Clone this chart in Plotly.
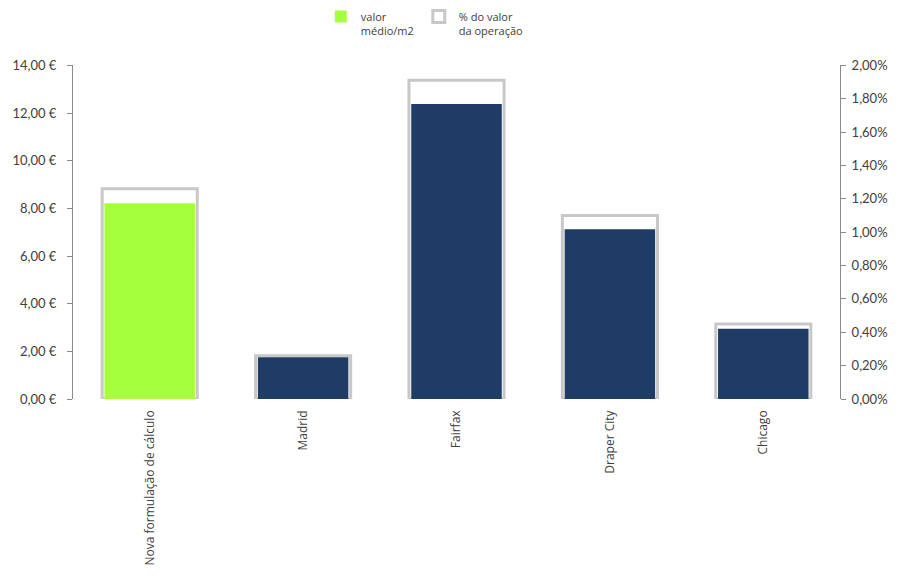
import plotly.graph_objects as go

# Data
categorias = ["Nova formulação de cálculo", "Madrid", "Fairfax", "Draper City", "Chicago"]
valor_m2 = [8.21, 1.75, 12.38, 7.12, 2.95]            # € per m2
pct_operacao = [0.0126, 0.0026, 0.0191, 0.0110, 0.0045]  # share of operation value

eur_ticks = [0, 2, 4, 6, 8, 10, 12, 14]
eur_labels = ["0,00 €", "2,00 €", "4,00 €", "6,00 €", "8,00 €", "10,00 €", "12,00 €", "14,00 €"]
pct_ticks = [0, 0.002, 0.004, 0.006, 0.008, 0.010, 0.012, 0.014, 0.016, 0.018, 0.020]
pct_labels = ["0,00%", "0,20%", "0,40%", "0,60%", "0,80%", "1,00%",
              "1,20%", "1,40%", "1,60%", "1,80%", "2,00%"]

GREEN = "#a6ff3c"
NAVY = "#1f3c66"
bar_colors = [GREEN if i == 0 else NAVY for i in range(len(categorias))]

FONT = "Lato, 'Open Sans', sans-serif"
TXT = "#404040"
AXIS = "#8a8a8a"

fig = go.Figure()

# Outline bars (% of operation value) on the right-hand axis, drawn underneath
fig.add_trace(go.Bar(
    x=categorias, y=pct_operacao, yaxis="y",
    name="% do valor<br>da operação",
    width=0.62,
    marker=dict(color="white", line=dict(color="#c8c8c8", width=3)),
    hoverinfo="x+y",
))

# Filled bars (average value per m2) on the left-hand axis, drawn on top
fig.add_trace(go.Bar(
    x=categorias, y=valor_m2, yaxis="y2",
    name="valor<br>médio/m2",
    width=0.59,
    marker=dict(color=bar_colors, line=dict(width=0)),
    hoverinfo="x+y",
))

fig.update_layout(
    width=900, height=580,
    margin=dict(l=69, r=52, t=65, b=181),
    paper_bgcolor="white", plot_bgcolor="white",
    barmode="overlay",
    showlegend=True,
    legend=dict(
        orientation="h", xref="container", x=0.472, xanchor="center",
        y=0.995, yanchor="top", yref="container", traceorder="reversed",
        font=dict(family="'Open Sans', sans-serif", size=11, color=TXT),
        valign="top", itemwidth=30, bgcolor="rgba(0,0,0,0)",
    ),
    font=dict(family=FONT, size=12, color=TXT),
    xaxis=dict(
        tickangle=-90, showline=False, showgrid=False, ticks="",
        ticklabelstandoff=8,
        tickfont=dict(family="'Open Sans', sans-serif", size=12, color=TXT),
    ),
    yaxis=dict(
        side="right", range=[0, 0.02], tickvals=pct_ticks, ticktext=pct_labels,
        showgrid=False, zeroline=False, showline=True, linecolor=AXIS, linewidth=1,
        ticks="outside", ticklen=5, tickcolor=AXIS, ticklabelstandoff=3,
        tickfont=dict(family=FONT, size=13, color=TXT),
    ),
    yaxis2=dict(
        side="left", overlaying="y", range=[0, 14], tickvals=eur_ticks, ticktext=eur_labels,
        showgrid=False, zeroline=False, showline=True, linecolor=AXIS, linewidth=1,
        ticks="outside", ticklen=5, tickcolor=AXIS, ticklabelstandoff=8,
        tickfont=dict(family=FONT, size=13, color=TXT),
    ),
)

fig.write_html("out.html")
